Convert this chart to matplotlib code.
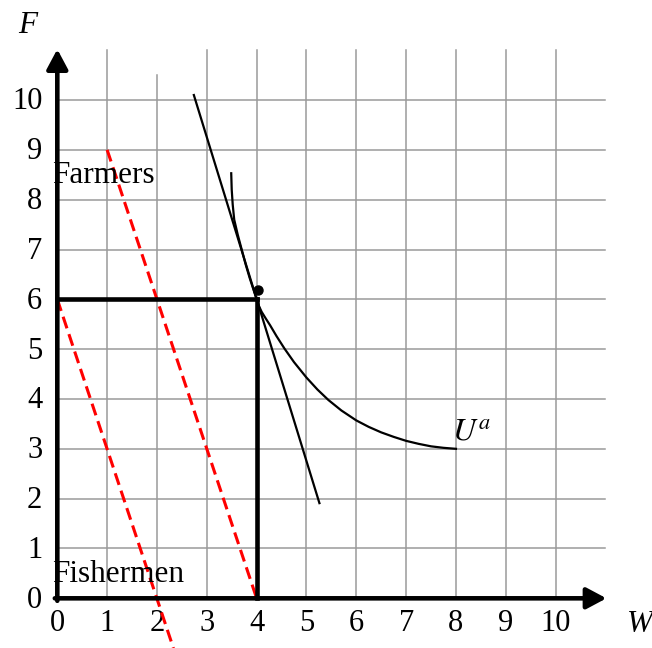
import matplotlib
matplotlib.use("Agg")
import matplotlib.pyplot as plt

# ----------------------------
# Data
# ----------------------------
x_ticks = [0, 1, 2, 3, 4, 5, 6, 7, 8, 9, 10]
y_ticks = [0, 1, 2, 3, 4, 5, 6, 7, 8, 9, 10]

fishermen_w = [0, 2.33]
fishermen_f = [6, -1]

farmers_w = [1, 4]
farmers_f = [9, 0]

tangent_w = [2.74, 5.26]
tangent_f = [10.10, 1.91]

indiff_w = [3.49, 3.50, 3.52, 3.55, 3.62, 3.70, 3.78, 3.86, 4.00,
            4.04, 4.10, 4.18, 4.27, 4.40, 4.56, 4.75, 5.00, 5.22, 5.44,
            5.70, 6.00, 6.25, 6.50, 6.75, 7.00, 7.25, 7.50, 7.75, 8.00]
indiff_f = [8.53, 8.20, 7.90, 7.60, 7.30, 7.00, 6.70, 6.43, 6.00,
            5.88, 5.75, 5.62, 5.48, 5.26, 5.01, 4.74, 4.43, 4.19, 3.98,
            3.77, 3.57, 3.44, 3.33, 3.24, 3.16, 3.10, 3.05, 3.02, 3.00]

choice_w, choice_f = 4, 6
dot_w, dot_f = 4.03, 6.19

plt.rcParams["font.family"] = ["Liberation Serif", "DejaVu Serif"]
plt.rcParams["mathtext.fontset"] = "stix"

fig = plt.figure(figsize=(6.52, 6.48), dpi=100)
ax = fig.add_axes([0, 0, 1, 1])
ax.set_xlim(-1.150, 11.934)
ax.set_ylim(-0.997, 12.007)
ax.axis("off")

# ----------------------------
# Grid
# ----------------------------
grid_color = "#9a9a9a"
for x in x_ticks[1:]:
    top = 10.5 if x == 2 else 11
    ax.plot([x, x], [0, top], color=grid_color, lw=1.1, zorder=1)
for y in y_ticks[1:]:
    ax.plot([0, 11], [y, y], color=grid_color, lw=1.1, zorder=1)

# ----------------------------
# Axes with arrows
# ----------------------------
arrow = dict(arrowstyle="-|>,head_length=0.6,head_width=0.32", lw=3.3,
             color="black", shrinkA=0, shrinkB=0, mutation_scale=20)
ax.annotate("", xy=(0, 11.02), xytext=(0, -0.05), arrowprops=arrow, zorder=5)
ax.annotate("", xy=(11.02, 0), xytext=(-0.05, 0), arrowprops=arrow, zorder=5)

for x in x_ticks:
    ax.text(x, -0.66, str(x), ha="center", va="baseline", fontsize=22)
for y in y_ticks:
    ax.text(-0.30, y - 0.19, str(y), ha="right", va="baseline", fontsize=22)

ax.text(-0.59, 11.35, "F", ha="center", va="baseline", fontsize=22.5,
        style="italic")
ax.text(11.69, -0.68, "W", ha="center", va="baseline", fontsize=22.5,
        style="italic")

# ----------------------------
# Lines
# ----------------------------
ax.plot(fishermen_w, fishermen_f, color="#ff0000", lw=2.2, dashes=(4, 2),
        zorder=3, clip_on=False)
ax.plot(farmers_w, farmers_f, color="#ff0000", lw=2.2, dashes=(4, 2), zorder=3)

ax.plot([0, choice_w], [choice_f, choice_f], color="black", lw=3.3, zorder=4)
ax.plot([choice_w, choice_w], [choice_f, 0], color="black", lw=3.3, zorder=4)

ax.plot(tangent_w, tangent_f, color="black", lw=1.6, zorder=4)
ax.plot(indiff_w, indiff_f, color="black", lw=1.6, zorder=4,
        solid_joinstyle="round")

ax.plot(dot_w, dot_f, "o", color="black", markersize=6.5, zorder=6)

# ----------------------------
# Labels
# ----------------------------
ax.text(-0.11, 8.33, "Farmers", ha="left", va="baseline", fontsize=22.5, zorder=7)
ax.text(-0.11, 0.33, "Fishermen", ha="left", va="baseline", fontsize=22.5, zorder=7)
ax.text(7.92, 3.18, "$U^a$", ha="left", va="baseline", fontsize=23, zorder=7)

fig.savefig("out.png", dpi=100)
